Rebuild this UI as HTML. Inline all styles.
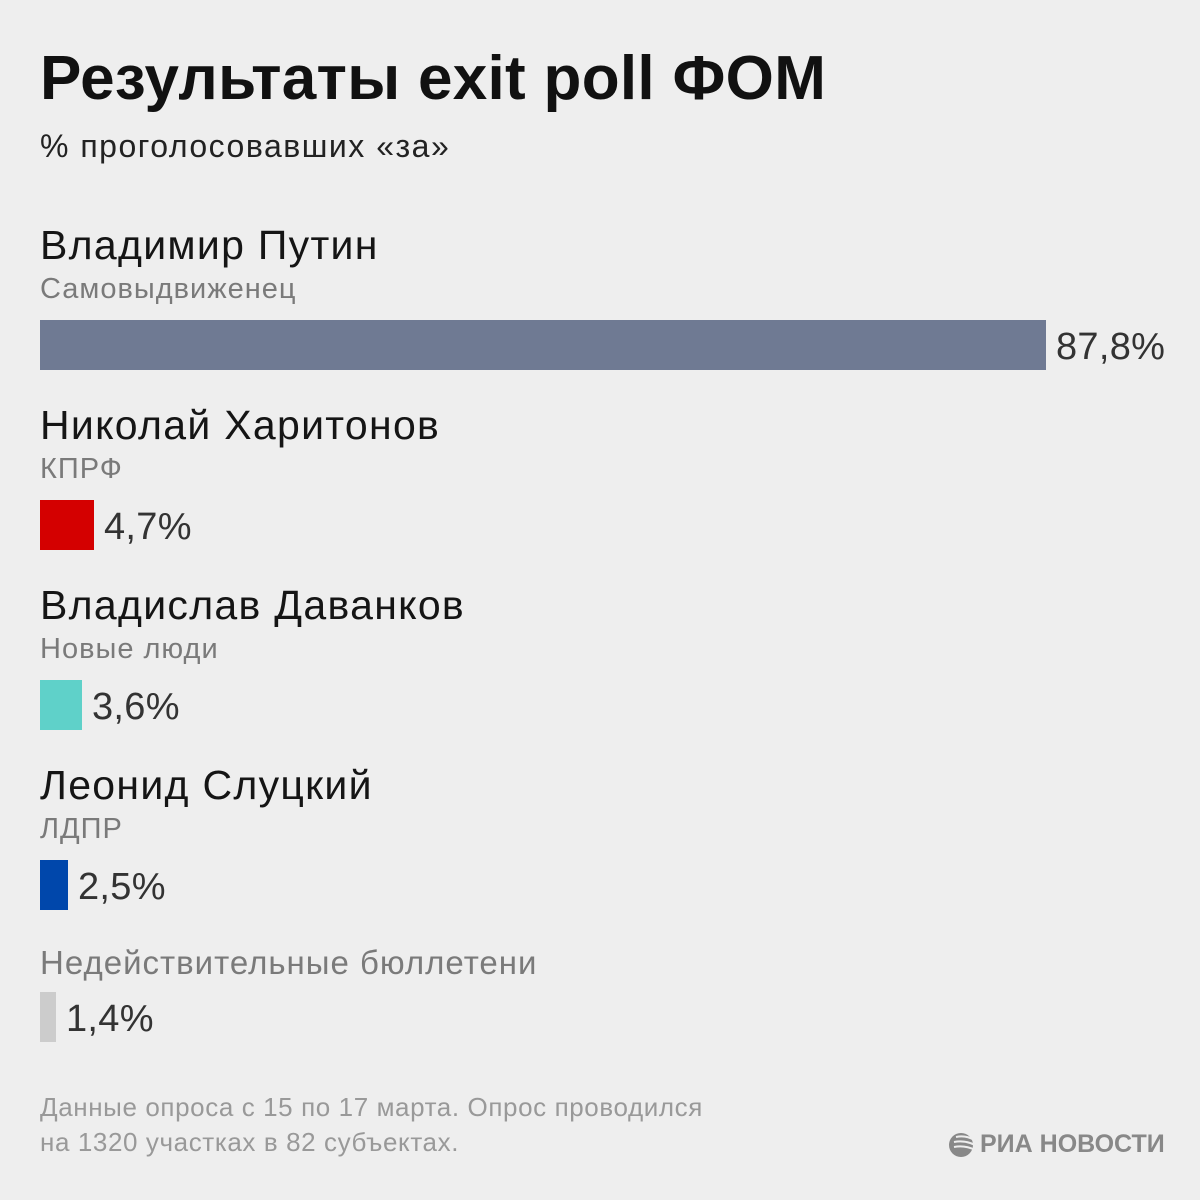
<!DOCTYPE html>
<html><head><meta charset="utf-8"><style>
html,body{margin:0;padding:0}
body{width:1200px;height:1200px;background:#eeeeee;position:relative;overflow:hidden;font-family:"Liberation Sans",sans-serif;color:#111}
.t{position:absolute;line-height:1;white-space:nowrap}
.b{position:absolute;left:40px}
.n{font-size:41px;left:40px;color:#151515;letter-spacing:1.3px}
.s{font-size:29px;left:40px;color:#7a7a7a;letter-spacing:1px}
.v{font-size:38px;color:#333;letter-spacing:0.3px}
</style></head><body>
<div class="t" style="left:40px;top:48px;font-size:62px;font-weight:bold;letter-spacing:0.3px">Результаты exit poll ФОМ</div>
<div class="t" style="left:40px;top:130px;font-size:32px;color:#222;letter-spacing:1.5px">% проголосовавших «за»</div>

<div class="t n" style="top:225px">Владимир Путин</div>
<div class="t s" style="top:275px">Самовыдвиженец</div>
<div class="b" style="top:320px;width:1006px;height:50px;background:#6f7a93"></div>
<div class="t v" style="left:1056px;top:328px">87,8%</div>

<div class="t n" style="top:405px">Николай Харитонов</div>
<div class="t s" style="top:455px">КПРФ</div>
<div class="b" style="top:500px;width:54px;height:50px;background:#d40000"></div>
<div class="t v" style="left:104px;top:508px">4,7%</div>

<div class="t n" style="top:585px">Владислав Даванков</div>
<div class="t s" style="top:635px">Новые люди</div>
<div class="b" style="top:680px;width:42px;height:50px;background:#5fd1c9"></div>
<div class="t v" style="left:92px;top:688px">3,6%</div>

<div class="t n" style="top:765px">Леонид Слуцкий</div>
<div class="t s" style="top:815px">ЛДПР</div>
<div class="b" style="top:860px;width:28px;height:50px;background:#0047ab"></div>
<div class="t v" style="left:78px;top:868px">2,5%</div>

<div class="t" style="left:40px;top:946px;font-size:33px;color:#7a7a7a;letter-spacing:1px">Недействительные бюллетени</div>
<div class="b" style="top:992px;width:16px;height:50px;background:#cccccc"></div>
<div class="t v" style="left:66px;top:1000px">1,4%</div>

<div class="t" style="left:40px;top:1094px;font-size:26px;color:#999;letter-spacing:0.6px">Данные опроса с 15 по 17 марта. Опрос проводился</div>
<div class="t" style="left:40px;top:1129px;font-size:26px;color:#999;letter-spacing:0.6px">на 1320 участках в 82 субъектах.</div>

<svg style="position:absolute;left:948px;top:1131px" width="28" height="28" viewBox="0 0 28 28">
<circle cx="13" cy="14" r="12" fill="#888"/>
<path d="M8 6 Q18 4 26 9 M6 11 Q17 9 27 14 M6 16 Q17 14 27 19" stroke="#eee" stroke-width="2" fill="none"/>
</svg>
<div class="t" style="left:980px;top:1132px;font-size:25px;font-weight:bold;color:#888">РИА НОВОСТИ</div>
</body></html>
